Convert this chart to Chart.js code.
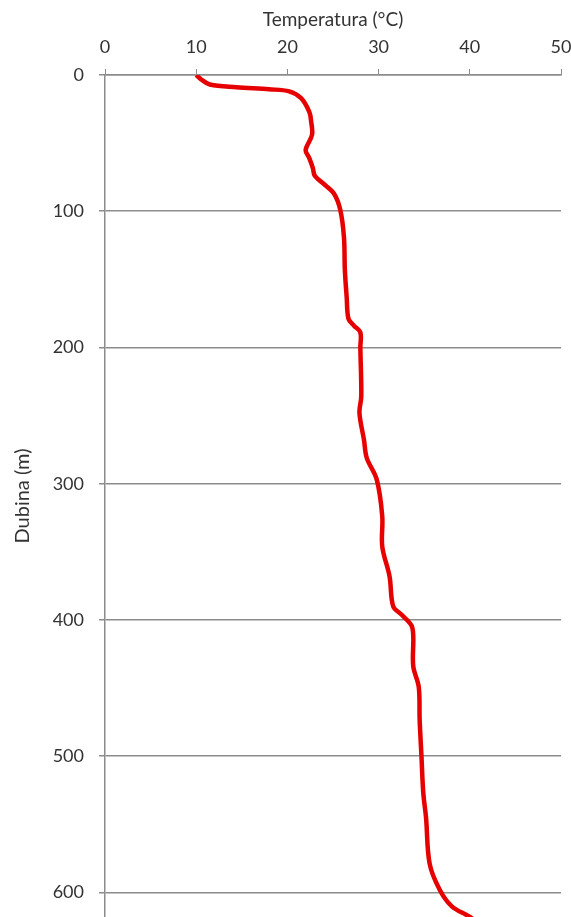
<!DOCTYPE html>
<html>
<head>
<meta charset="utf-8">
<script src="https://cdn.jsdelivr.net/npm/chart.js@4"></script>
<style>
  html, body { margin: 0; padding: 0; background: #fff; overflow: hidden; }
  #wrap { width: 571px; height: 917px; overflow: hidden; }
  canvas { display: block; }
</style>
</head>
<body>
<div id="wrap"><canvas id="c" width="571" height="917"></canvas></div>
<script>
const depths = [0, 3, 7, 9, 10.5, 12, 17, 27, 34, 44, 55, 61, 68.5, 74, 80, 87, 99, 119, 143, 163, 179, 184, 189, 200, 236, 248, 268, 281, 297, 324, 346, 368, 390, 396, 404, 412, 434, 449, 473, 500, 527, 545, 579, 598, 610, 618, 624];
const temps  = [10.0, 10.5, 11.5, 14.4, 18.0, 20.2, 21.5, 22.4, 22.6, 22.7, 22.0, 22.4, 22.8, 23.0, 24.0, 25.1, 25.8, 26.2, 26.3, 26.5, 26.7, 27.3, 28.0, 28.0, 28.1, 27.9, 28.4, 28.7, 29.8, 30.4, 30.4, 31.2, 31.6, 32.5, 33.6, 33.8, 33.8, 34.4, 34.5, 34.7, 34.9, 35.2, 35.6, 36.7, 38.0, 40.0, 41.2];
const xTicks = [0, 10, 20, 30, 40, 50];
const yTicks = [0, 100, 200, 300, 400, 500, 600];
const xTitle = 'Temperatura (°C)';
const yTitle = 'Dubina (m)';

const points = depths.map((d, i) => ({ x: temps[i], y: d }));
const gridColor = '#8c8c8c';
const textColor = '#333333';
const font = 'Lato';

new Chart(document.getElementById('c'), {
  type: 'scatter',
  data: {
    datasets: [{
      data: points,
      showLine: true,
      borderColor: '#e60000',
      borderWidth: 4.5,
      pointRadius: 0,
      tension: 0.35,
      fill: false
    }]
  },
  options: {
    responsive: false,
    animation: false,
    devicePixelRatio: 1,
    layout: { padding: { left: 0, right: 10, top: 0, bottom: 0 } },
    plugins: { legend: { display: false }, tooltip: { enabled: false } },
    scales: {
      x: {
        type: 'linear',
        position: 'top',
        min: 0, max: 50,
        afterBuildTicks: s => { s.ticks = xTicks.map(v => ({ value: v })); },
        afterFit: s => { s.height = 75; s.paddingLeft = 0; s.paddingRight = 0; },
        ticks: { color: textColor, font: { family: font, size: 18 }, padding: 11, maxRotation: 0 },
        grid: { drawOnChartArea: false, drawTicks: true, tickLength: 6, color: gridColor, lineWidth: 1 },
        border: { display: true, color: gridColor, width: 1.5 },
        title: { display: true, text: xTitle, color: textColor, font: { family: font, size: 19 }, padding: { top: 8, bottom: 0 } }
      },
      y: {
        type: 'linear',
        reverse: true,
        min: 0, max: 618,
        afterBuildTicks: s => { s.ticks = yTicks.map(v => ({ value: v })); },
        afterFit: s => { s.width = 105; s.paddingTop = 0; s.paddingBottom = 0; },
        ticks: { color: textColor, font: { family: font, size: 18 }, padding: 15 },
        grid: { drawOnChartArea: true, drawTicks: true, tickLength: 6, color: gridColor, lineWidth: 1.5 },
        border: { display: true, color: gridColor, width: 1.5 },
        title: { display: true, text: yTitle, color: textColor, font: { family: font, size: 20 }, padding: { top: 11, bottom: 0 } }
      }
    }
  }
});
</script>
</body>
</html>
